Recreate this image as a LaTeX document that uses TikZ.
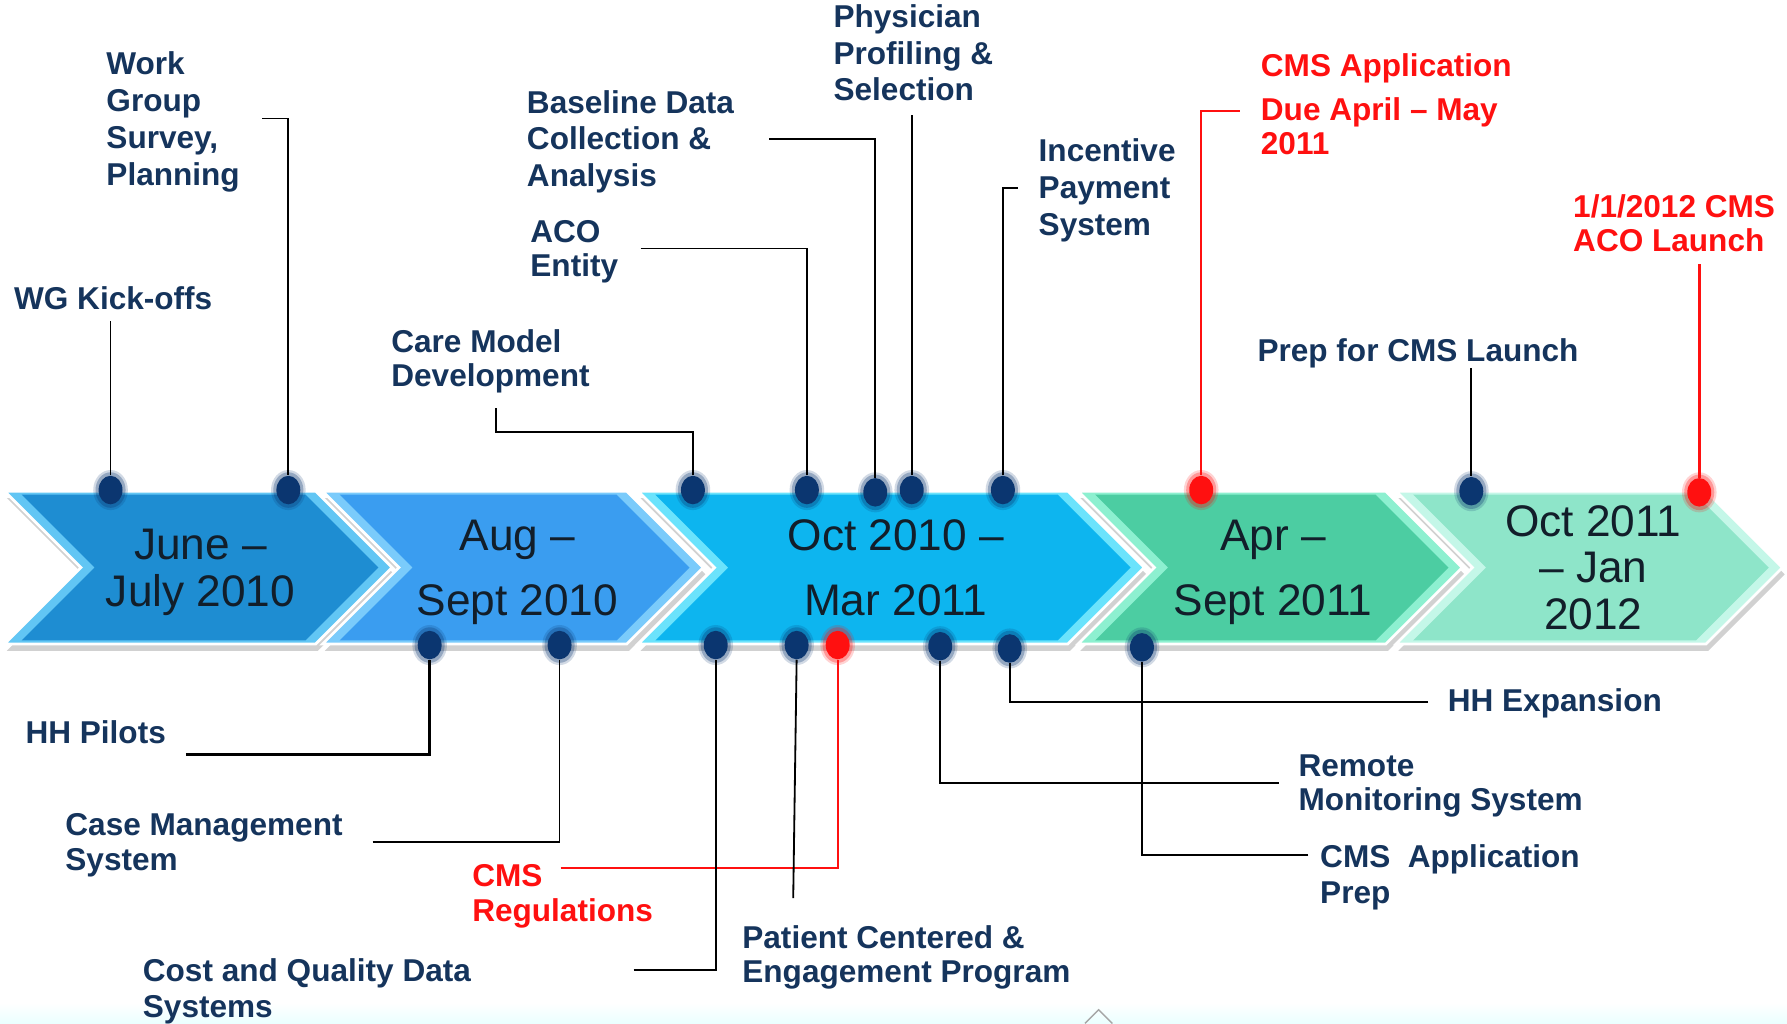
\documentclass[tikz,border=0pt]{standalone}
\usepackage{fontspec}
\setmainfont{Liberation Sans}
\usetikzlibrary{calc,shapes.geometric}
\definecolor{navy}{HTML}{15345C}
\definecolor{dotc}{HTML}{0B3670}
\definecolor{redc}{HTML}{FF1010}
\definecolor{tl}{HTML}{121E2A}
\definecolor{ca}{HTML}{1E8DD2}\definecolor{cal}{HTML}{62C6F4}
\definecolor{cb}{HTML}{3A9DF0}\definecolor{cbl}{HTML}{7ACBFB}
\definecolor{cc}{HTML}{0DB5EF}\definecolor{ccl}{HTML}{6BE3FC}
\definecolor{cd}{HTML}{4CCDA2}\definecolor{cdl}{HTML}{8DF0D0}
\definecolor{ce}{HTML}{8EE5C9}\definecolor{cel}{HTML}{C4F7E8}
\newcommand\mychev[4]{%
 \fill[black,opacity=.18] (#1+2,437) -- (#2+2,437) -- (#2+69,504) -- (#2+2,571) -- (#1+2,571) -- (#1+69,504) -- cycle;
 \fill[#4,draw=white,line width=1.2pt] (#1,431) -- (#2,431) -- (#2+67,498) -- (#2,565) -- (#1,565) -- (#1+67,498) -- cycle;
 \fill[#3] (#1+15,434) -- (#2-9,434) -- (#2+55,498) -- (#2-9,562) -- (#1+15,562) -- (#1+79,498) -- cycle;
}
\tikzset{
 lbl/.style={anchor=north west, inner sep=0pt, align=left, text=navy, font=\bfseries\fontsize{13.85}{16}\selectfont},
 redlbl/.style={lbl, text=redc},
 tlt/.style={inner sep=0pt, align=center, text=tl},
 conn/.style={draw=black, line width=0.8pt},
 rconn/.style={draw=redc, line width=0.9pt},
 dotn/.style={shape=ellipse, minimum width=10.5pt, minimum height=12.5pt, inner sep=0pt},
}
\begin{document}
\begin{tikzpicture}[x=0.5pt,y=-0.5pt]
\useasboundingbox (0,0) rectangle (1568,898);
\fill[white] (0,0) rectangle (1568,898);
\shade[top color=white, bottom color=cyan!8] (0,880) rectangle (1568,898);
\draw[gray!70, line width=0.6pt] (952,898) -- (964,886) -- (976,898);
% chevrons
\mychev{4}{277}{ca}{cal}
\mychev{283}{550}{cb}{cbl}
\mychev{560}{937}{cc}{ccl}
\mychev{946}{1216}{cd}{cdl}
\mychev{1225}{1497}{ce}{cel}
% timeline texts
\node[tlt, font=\fontsize{19.4}{20.5}\selectfont] (t1) at (176,502) {June –\\July 2010};
\node[tlt, font=\fontsize{19.4}{28.5}\selectfont] (t2) at (454,502) {Aug –\\Sept 2010};
\node[tlt, font=\fontsize{19.4}{28.5}\selectfont] (t3) at (786,498) {Oct 2010 –\\Mar 2011};
\node[tlt, font=\fontsize{19.4}{28.5}\selectfont] (t4) at (1117,502) {Apr –\\Sept 2011};
\node[tlt, font=\fontsize{19.4}{20.5}\selectfont] (t5) at (1398,498) {Oct 2011\\– Jan\\2012};
% dots
\foreach \n/\x/\y/\c in {d1/97/430/dotc, d2/253/430/dotc, d3/608/430/dotc, d4/708/430/dotc,
  d5/768/432/dotc, d6/800/430/dotc, d7/880/430/dotc, d8/1054/430/redc, d9/1291/431/dotc, d10/1491/432/redc,
  b1/377/566/dotc, b2/491/566/dotc, b4/628/566/dotc, b5/699/566/dotc, b3/735/566/redc,
  b6/825/567/dotc, b7/886/569/dotc, b8/1002/568/dotc}{
  \fill[\c,opacity=.18] (\x,\y) ellipse [x radius=7.6pt, y radius=8.8pt];
  \fill[\c,opacity=.3] (\x,\y) ellipse [x radius=6.6pt, y radius=7.8pt];
  \node[dotn, fill=\c] (\n) at (\x,\y) {};
}
% top labels
\node[lbl] (wgk) at (12,251) {WG Kick-offs};
\node[lbl, font=\bfseries\fontsize{13.85}{16.2}\selectfont] (wgp) at (93,45) {Work\\Group\\Survey,\\Planning};
\node[lbl, font=\bfseries\fontsize{13.85}{15}\selectfont] (cmd) at (343,289) {Care Model\\Development};
\node[lbl, font=\bfseries\fontsize{13.85}{15}\selectfont] (aco) at (465,193) {ACO\\Entity};
\node[lbl, font=\bfseries\fontsize{13.85}{16}\selectfont] (bdc) at (462,79) {Baseline Data\\Collection \&\\Analysis};
\node[lbl, font=\bfseries\fontsize{13.85}{16}\selectfont] (pps) at (731,4) {Physician\\Profiling \&\\Selection};
\node[lbl, font=\bfseries\fontsize{13.85}{16.25}\selectfont] (ips) at (911,121) {Incentive\\Payment\\System};
\node[redlbl, font=\bfseries\fontsize{13.85}{15}\selectfont] (cad) at (1106,47) {CMS Application\\[4pt]Due April – May\\2011};
\node[lbl] (pfl) at (1103,297) {Prep for CMS Launch};
\node[redlbl, font=\bfseries\fontsize{13.85}{15}\selectfont] (lau) at (1380,170) {1/1/2012 CMS\\ACO Launch};
% bottom labels
\node[lbl] (hhp) at (22,632) {HH Pilots};
\node[lbl, font=\bfseries\fontsize{13.85}{15.5}\selectfont] (cms) at (57,713) {Case Management\\System};
\node[redlbl, font=\bfseries\fontsize{13.85}{15.5}\selectfont] (reg) at (414,758) {CMS\\Regulations};
\node[lbl, font=\bfseries\fontsize{13.85}{15.5}\selectfont] (cqd) at (125,841) {Cost and Quality Data\\Systems};
\node[lbl, font=\bfseries\fontsize{13.85}{15}\selectfont] (pce) at (651,812) {Patient Centered \&\\Engagement Program};
\node[lbl, font=\bfseries\fontsize{13.85}{15}\selectfont] (rms) at (1139,662) {Remote\\Monitoring System};
\node[lbl] (hhe) at (1270,604) {HH Expansion};
\node[lbl, font=\bfseries\fontsize{13.85}{15.5}\selectfont] (cap) at (1158,741) {CMS\ \ Application\\Prep};
% connector start coordinates
\coordinate (s1) at (97,282);
\coordinate (s2) at (230,104);
\coordinate (s3) at (435,358);
\coordinate (s4) at (562,218);
\coordinate (s5) at (675,122);
\coordinate (s6) at (800,101);
\coordinate (s7) at (893,165);
\coordinate (s8) at (1088,97);
\coordinate (s9) at (1291,323);
\coordinate (s10) at (1491,232);
\coordinate (s11) at (163,662);
\coordinate (s12) at (327,739);
\coordinate (s13) at (492,762);
\coordinate (s14) at (556,851);
\coordinate (s15) at (696,788);
\coordinate (s16) at (1122,687);
\coordinate (s17) at (1253,616);
\coordinate (s18) at (1148,750);
% connectors top
\draw[conn] (s1) -- (d1.north);
\draw[conn] (s2) -| (d2.north);
\draw[conn] (s3) -- ++(0,21) -| (d3.north);
\draw[conn] (s4) -| (d4.north);
\draw[conn] (s5) -| (d5.north);
\draw[conn] (s6) -- (d6.north);
\draw[conn] (s7) -| (d7.north);
\draw[rconn] (s8) -| (d8.north);
\draw[conn] (s9) -- (d9.north);
\draw[rconn, line width=1.3pt] (s10) -- (d10.north);
% connectors bottom
\draw[conn, line width=1.2pt] (s11) -| (b1.south);
\draw[conn] (s12) -| (b2.south);
\draw[rconn] (s13) -| (b3.south);
\draw[conn] (s14) -| (b4.south);
\draw[conn] (s15) -- (b5.south);
\draw[conn, line width=1pt] (s16) -| (b6.south);
\draw[conn, line width=1pt] (s17) -| (b7.south);
\draw[conn] (s18) -| (b8.south);
\end{tikzpicture}
\end{document}
